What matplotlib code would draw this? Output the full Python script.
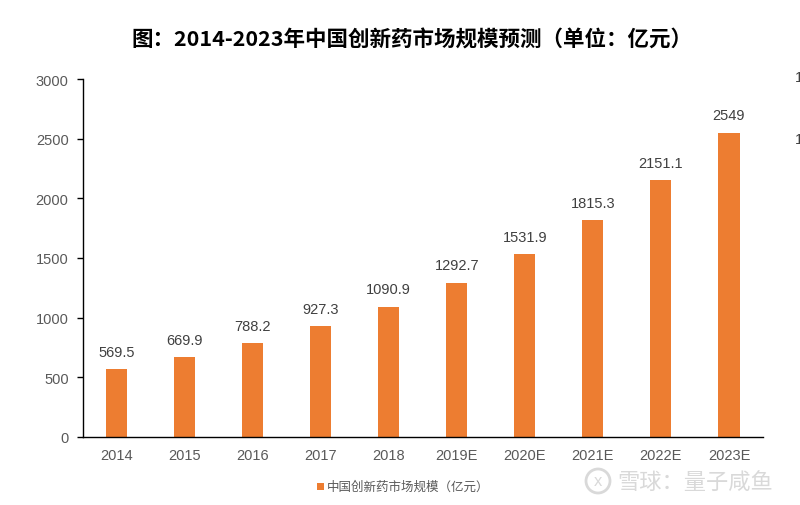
import matplotlib
matplotlib.use("Agg")
import matplotlib.pyplot as plt
from matplotlib.patches import Rectangle, Ellipse

plt.rcParams['font.family'] = ['Liberation Sans', 'Noto Sans CJK SC', 'DejaVu Sans']

categories = ["2014", "2015", "2016", "2017", "2018", "2019E", "2020E", "2021E", "2022E", "2023E"]
values = [569.5, 669.9, 788.2, 927.3, 1090.9, 1292.7, 1531.9, 1815.3, 2151.1, 2549]
labels = ["569.5", "669.9", "788.2", "927.3", "1090.9", "1292.7", "1531.9", "1815.3", "2151.1", "2549"]
yticks = [0, 500, 1000, 1500, 2000, 2500, 3000]
title = "图：2014-2023年中国创新药市场规模预测（单位：亿元）"
legend_label = "中国创新药市场规模（亿元）"
watermark = "雪球：量子咸鱼"

W, H = 800, 506
fig = plt.figure(figsize=(W / 100, H / 100), dpi=100)
ax = fig.add_axes([82.5 / W, 1 - 438 / H, (763 - 82.5) / W, (438 - 80) / H])

color = "#ED7D31"
x = list(range(len(categories)))
ax.bar(x, values, width=0.31, color=color, zorder=2)
for xi, v, lab in zip(x, values, labels):
    ax.annotate(lab, (xi, v), xytext=(0, 7.5), textcoords="offset points",
                ha="center", va="bottom", fontsize=10.5, color="#404040")

ax.set_xlim(-0.5, len(categories) - 0.5)
ax.set_ylim(0, 3000)
ax.set_yticks(yticks)
ax.set_xticks(x)
ax.set_xticklabels(categories)
ax.tick_params(axis='y', length=4, width=1, color="#000000", labelsize=10.5, labelcolor="#595959", pad=6)
ax.tick_params(axis='x', length=0, labelsize=10.5, labelcolor="#595959", pad=8)
for s in ["top", "right"]:
    ax.spines[s].set_visible(False)
ax.spines["left"].set_color("#000000")
ax.spines["bottom"].set_color("#000000")
ax.spines["left"].set_linewidth(1)
ax.spines["bottom"].set_linewidth(1)

fig.text(412 / W, 1 - 40 / H, title, ha="center", va="center", fontsize=15.5, fontweight="bold",
         family=['Noto Sans CJK SC', 'DejaVu Sans'], color="#000000")

# legend
fig.patches.append(Rectangle((317 / W, 1 - 491 / H), 7 / W, 7 / H, transform=fig.transFigure,
                             facecolor=color, edgecolor="none"))
fig.text(327 / W, 1 - 487.5 / H, legend_label, ha="left", va="center", fontsize=9,
         family=['Noto Sans CJK SC', 'DejaVu Sans'], color="#595959")

# watermark
fig.patches.append(Ellipse((598 / W, 1 - 482 / H), 24 / W, 24 / H, transform=fig.transFigure,
                           facecolor="none", edgecolor="#d9d9d9", linewidth=2))
fig.text(598 / W, 1 - 482 / H, "x", ha="center", va="center", fontsize=12,
         color="#d9d9d9")
fig.text(617 / W, 1 - 482 / H, watermark, ha="left", va="center", fontsize=16,
         family=['Noto Sans CJK SC', 'DejaVu Sans'], color="#d9d9d9")

# partial characters at right edge
fig.text(795 / W, 1 - 78 / H, "1", ha="left", va="center", fontsize=10.5, color="#404040")
fig.text(795 / W, 1 - 140 / H, "1", ha="left", va="center", fontsize=10.5, color="#404040")

fig.savefig("out.png", dpi=100)
